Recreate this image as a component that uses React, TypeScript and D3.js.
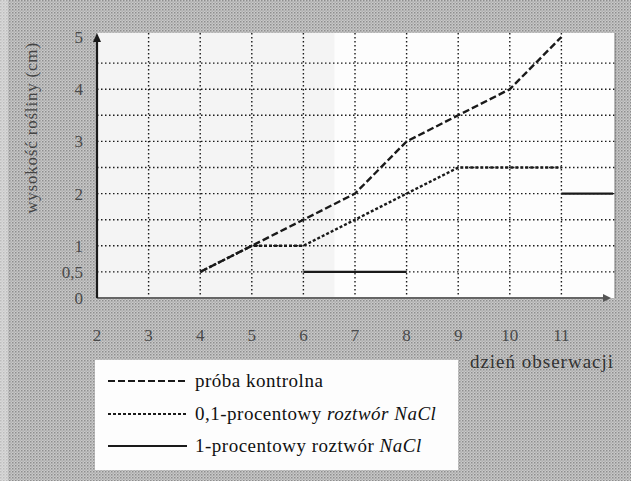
// Wykres wzrostu roślin — odtworzenie w D3 (skany z podręcznika).
import React from "react";
import * as d3 from "d3";

const W = 631;
const H = 481;

// oś X: dzień obserwacji, oś Y: wysokość rośliny (cm)
const xTicks = [2, 3, 4, 5, 6, 7, 8, 9, 10, 11];
const yTicks = [0, 0.5, 1, 2, 3, 4, 5];
const yGrid = [0.5, 1, 1.5, 2, 2.5, 3, 3.5, 4, 4.5];

const kontrolnaDays = [4, 5, 6, 7, 8, 9, 10, 11];
const kontrolnaHeights = [0.5, 1, 1.5, 2, 3, 3.5, 4, 5];

const nacl01Days = [4, 5, 6, 7, 8, 9, 10, 11];
const nacl01Heights = [0.5, 1, 1, 1.5, 2, 2.5, 2.5, 2.5];

// null = brak pomiaru (przerwa w linii)
const nacl1Days = [6, 7, 8, 9, 10, 11, 12];
const nacl1Heights: (number | null)[] = [0.5, 0.5, 0.5, null, null, 2, 2];

const fmtY = (v: number) => String(v).replace(".", ",");

const plot = { left: 97, right: 613, top: 37, bottom: 298 };

export default function App() {
  const x = d3.scaleLinear().domain([2, 12]).range([plot.left, plot.right]);
  const y = d3.scaleLinear().domain([0, 5]).range([plot.bottom, plot.top]);

  const line = d3
    .line<[number, number | null]>()
    .defined((d) => d[1] != null)
    .x((d) => x(d[0]))
    .y((d) => y(d[1] as number));

  const kontrolna = line(kontrolnaDays.map((d, i) => [d, kontrolnaHeights[i]]));
  const nacl01 = line(nacl01Days.map((d, i) => [d, nacl01Heights[i]]));
  const nacl1 = line(nacl1Days.map((d, i) => [d, nacl1Heights[i]]));

  const ink = "#1a1a1a";
  const grey = "#4a4a4a";
  const serif = "'Liberation Serif', 'DejaVu Serif', serif";

  const legend = [
    { dash: "7 3", y: 381 },
    { dash: "3 2", y: 414 },
    { dash: null, y: 446 },
  ];

  return (
    <svg
      width={W}
      height={H}
      style={{ position: "absolute", left: 0, top: 0, display: "block" }}
      fontFamily={serif}
    >
      <defs>
        <pattern id="halftone" width="3" height="3" patternUnits="userSpaceOnUse">
          <rect width="3" height="3" fill="#c9c9c9" />
          <rect x="0" y="0" width="1.5" height="1.5" fill="#8e8e8e" />
          <rect x="1.5" y="1.5" width="1.3" height="1.3" fill="#a6a6a6" />
        </pattern>
      </defs>

      <rect width={W} height={H} fill="url(#halftone)" />
      <rect x={0} y={0} width={8} height={H} fill="#ececec" opacity={0.5} />

      {/* obszar wykresu */}
      <rect
        x={plot.left}
        y={33}
        width={plot.right + 2 - plot.left}
        height={plot.bottom - 33}
        fill="#fdfdfd"
      />
      <rect x={plot.left} y={33} width={x(6.6) - plot.left} height={plot.bottom - 33} fill="#eeeeee" opacity={0.6} />

      {/* siatka */}
      <g stroke={ink} strokeWidth={1.4} strokeDasharray="1.5 2.5">
        {xTicks.slice(1).map((t) => (
          <line key={`vx${t}`} x1={x(t)} x2={x(t)} y1={33} y2={plot.bottom} />
        ))}
        {yGrid.map((t) => (
          <line key={`hy${t}`} x1={plot.left} x2={plot.right + 2} y1={y(t)} y2={y(t)} />
        ))}
      </g>
      <line x1={plot.right + 2} x2={plot.right + 2} y1={33} y2={plot.bottom} stroke="#777" strokeWidth={1} />

      {/* osie */}
      <line x1={plot.left} x2={plot.right - 4} y1={plot.bottom} y2={plot.bottom} stroke="#666" strokeWidth={2.2} />
      <path d={`M${plot.right - 2},${plot.bottom} l-8,-4 l0,8 z`} fill="#555" />
      <line x1={plot.left} x2={plot.left} y1={plot.bottom} y2={plot.top + 4} stroke={ink} strokeWidth={2.2} />
      <path d={`M${plot.left},${plot.top - 4} l-4,9 l8,0 z`} fill={ink} />

      {/* serie */}
      <path d={nacl1 ?? ""} fill="none" stroke={ink} strokeWidth={2.4} />
      <path d={nacl01 ?? ""} fill="none" stroke={ink} strokeWidth={2.4} strokeDasharray="3 2" />
      <path d={kontrolna ?? ""} fill="none" stroke={ink} strokeWidth={2.4} strokeDasharray="7 3" />

      {/* etykiety osi */}
      <g fill={grey} fontSize={17}>
        {xTicks.map((t) => (
          <text key={`tx${t}`} x={x(t)} y={341} textAnchor="middle">
            {t}
          </text>
        ))}
        {yTicks.map((t) => (
          <text key={`ty${t}`} x={83} y={y(t) + 6} textAnchor="end">
            {fmtY(t)}
          </text>
        ))}
      </g>
      <text x={542} y={368} textAnchor="middle" fontSize={19} letterSpacing={1} fill="#333">
        dzień obserwacji
      </text>
      <text
        transform="translate(37,128) rotate(-90)"
        textAnchor="middle"
        fontSize={17}
        letterSpacing={0.8}
        fill="#444"
      >
        wysokość rośliny (cm)
      </text>

      {/* legenda */}
      <rect x={95} y={360} width={363} height={110} fill="#fdfdfd" />
      {legend.map((l, i) => (
        <line
          key={`ll${i}`}
          x1={108}
          x2={187}
          y1={l.y}
          y2={l.y}
          stroke={ink}
          strokeWidth={2.2}
          strokeDasharray={l.dash ?? undefined}
        />
      ))}
      <g fill="#111" fontSize={19} letterSpacing={0.5}>
        <text x={195} y={legend[0].y + 6}>próba kontrolna</text>
        <text x={195} y={legend[1].y + 6}>
          0,1-procentowy <tspan fontStyle="italic">roztwór NaCl</tspan>
        </text>
        <text x={195} y={legend[2].y + 6}>
          1-procentowy roztwór <tspan fontStyle="italic">NaCl</tspan>
        </text>
      </g>
    </svg>
  );
}
